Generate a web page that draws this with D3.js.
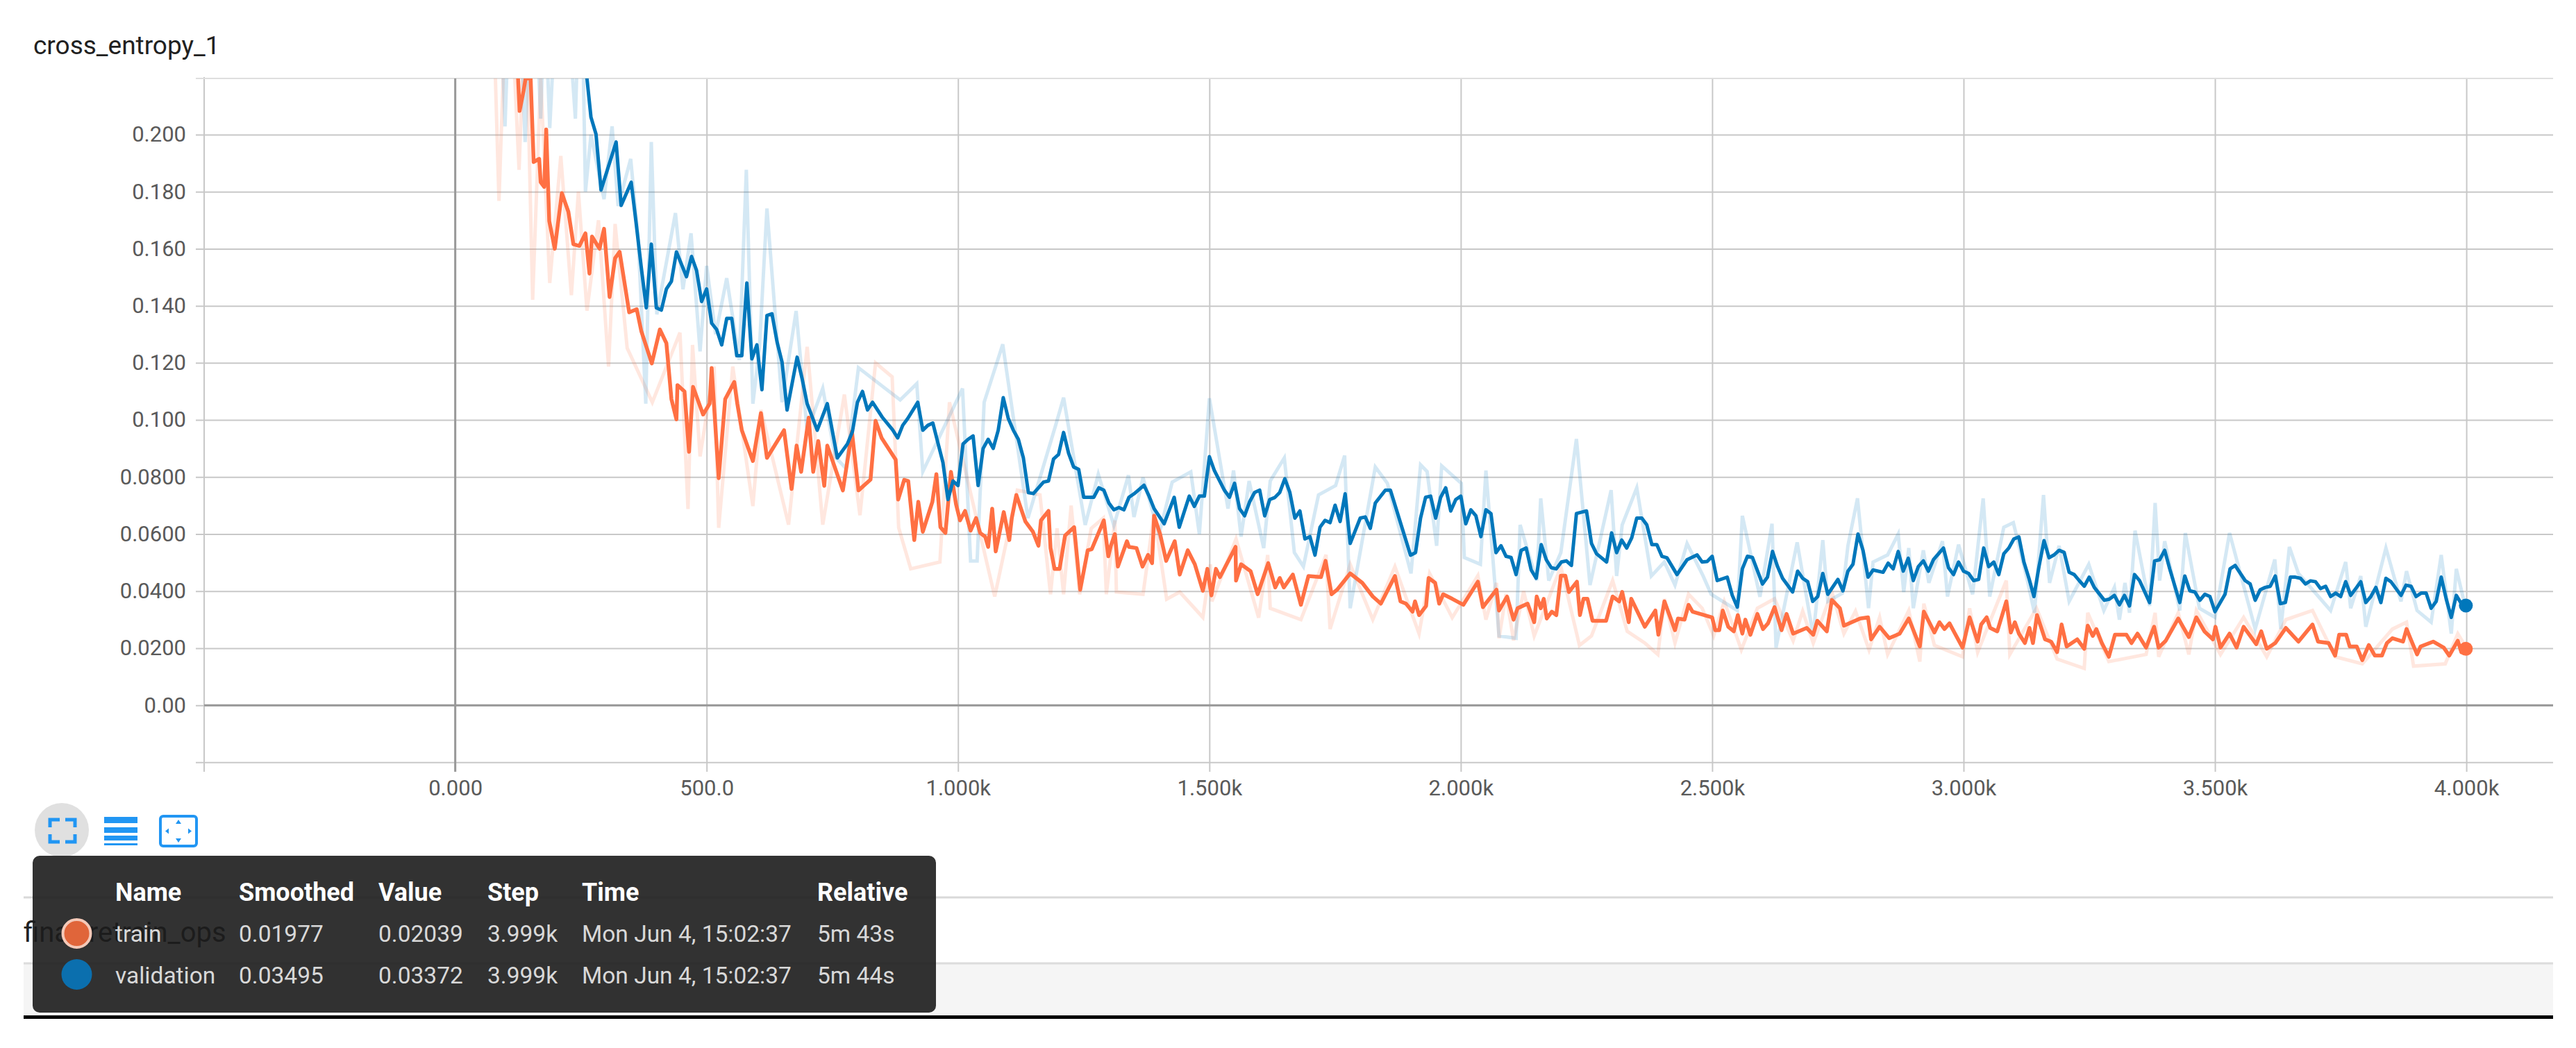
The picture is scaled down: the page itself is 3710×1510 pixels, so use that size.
<!DOCTYPE html>
<html>
<head>
<meta charset="utf-8">
<script src="https://cdn.jsdelivr.net/npm/d3@7"></script>
<style>
  html, body { margin: 0; background: #fff; }
  text { font-family: Roboto, sans-serif; }
</style>
</head>
<body>
<svg id="chart" width="3710" height="1510"></svg>
<script>
// data: step and value arrays per series
const valSteps = [80,160,220,262,270,280,290,320,330,350,360,370,380,390,400,410,420,430,440,460,470,480,490,500,510,520,530,540,550,560,570,580,590,600,610,620,630,640,650,660,680,690,700,720,740,760,780,790,800,810,820,830,850,870,880,890,900,920,930,940,950,970,980,990,1000,1010,1020,1030,1040,1050,1060,1070,1080,1090,1100,1110,1120,1130,1140,1150,1160,1170,1180,1190,1200,1210,1220,1230,1240,1250,1270,1280,1290,1300,1310,1320,1330,1340,1350,1370,1380,1390,1410,1430,1440,1460,1470,1480,1490,1500,1510,1530,1540,1550,1560,1570,1580,1590,1600,1610,1620,1630,1640,1650,1660,1670,1680,1690,1700,1710,1720,1730,1740,1750,1760,1770,1780,1800,1810,1820,1830,1850,1860,1900,1910,1920,1930,1940,1950,1960,1970,1980,1990,2000,2010,2020,2030,2040,2050,2060,2070,2080,2090,2100,2110,2120,2130,2140,2150,2160,2170,2180,2190,2200,2210,2220,2230,2250,2260,2270,2290,2300,2310,2320,2330,2340,2350,2360,2370,2380,2390,2400,2410,2430,2450,2470,2480,2490,2500,2510,2530,2540,2550,2560,2570,2580,2600,2610,2620,2630,2640,2660,2670,2680,2690,2700,2710,2720,2730,2750,2760,2770,2780,2790,2800,2810,2820,2840,2850,2860,2870,2880,2890,2900,2910,2920,2930,2940,2960,2970,2980,2990,3000,3010,3020,3030,3040,3050,3060,3070,3080,3090,3100,3110,3120,3130,3140,3150,3160,3170,3180,3190,3200,3210,3220,3230,3240,3250,3260,3280,3290,3300,3310,3320,3330,3340,3350,3370,3380,3390,3400,3410,3430,3440,3450,3460,3470,3480,3490,3500,3520,3530,3540,3560,3570,3580,3590,3600,3610,3620,3630,3640,3650,3660,3670,3680,3690,3700,3710,3720,3730,3740,3750,3760,3770,3790,3800,3810,3820,3830,3840,3850,3870,3880,3890,3900,3910,3920,3930,3940,3950,3960,3970,3980,3990,3999];
const valSmooth = [.36,.28,.24,.2197,.2061,.2002,.1806,.1974,.1752,.1833,.1687,.1535,.1393,.1616,.1393,.1385,.1459,.1486,.1589,.1502,.1573,.1524,.1415,.1459,.1339,.1317,.1263,.1356,.1356,.1225,.1225,.1480,.1214,.1263,.1106,.1366,.1372,.1274,.1203,.1035,.1220,.1144,.1057,.0964,.1057,.0867,.0916,.0959,.1062,.1100,.1035,.1062,.1008,.0965,.0937,.0981,.1005,.1062,.0964,.0981,.0989,.0851,.0721,.0786,.0770,.0916,.0932,.0944,.0770,.0900,.0932,.0900,.0964,.1078,.1005,.0964,.0932,.0867,.0745,.0742,.0762,.0782,.0786,.0863,.0879,.0956,.0883,.0835,.0827,.0729,.0729,.0762,.0754,.0709,.0685,.0693,.0685,.0729,.0741,.0771,.0733,.0689,.0636,.0729,.0624,.0733,.0697,.0733,.0733,.0871,.0822,.0753,.0729,.0778,.0689,.0664,.0713,.0746,.0754,.0664,.0721,.0728,.0746,.0794,.0746,.0656,.0681,.0583,.0591,.0526,.0624,.0648,.0640,.0701,.0644,.0741,.0567,.0656,.0660,.0620,.0709,.0754,.0754,.0526,.0535,.0656,.0729,.0733,.0656,.0729,.0762,.0681,.0721,.0733,.0636,.0685,.0664,.0591,.0685,.0672,.0535,.0559,.0522,.0518,.0458,.0543,.0551,.0474,.0445,.0563,.0510,.0482,.0478,.0502,.0506,.0490,.0672,.0681,.0567,.0531,.0502,.0604,.0535,.0579,.0551,.0587,.0656,.0656,.0632,.0563,.0563,.0522,.0517,.0458,.0510,.0527,.0502,.0504,.0522,.0437,.0449,.0385,.0344,.0478,.0522,.0518,.0425,.0449,.0539,.0486,.0445,.0397,.0470,.0445,.0433,.0364,.0381,.0462,.0389,.0441,.0401,.0470,.0494,.0600,.0543,.0449,.0474,.0466,.0498,.0478,.0539,.0470,.0515,.0437,.0486,.0506,.0470,.0510,.0551,.0482,.0458,.0502,.0470,.0462,.0437,.0441,.0551,.0486,.0502,.0458,.0531,.0551,.0583,.0590,.0502,.0445,.0381,.0486,.0577,.0517,.0527,.0543,.0536,.0466,.0458,.0437,.0417,.0449,.0413,.0368,.0372,.0385,.0352,.0385,.0348,.0458,.0437,.0360,.0506,.0510,.0543,.0478,.0360,.0453,.0401,.0397,.0368,.0389,.0381,.0328,.0389,.0478,.0490,.0437,.0425,.0368,.0405,.0413,.0417,.0453,.0356,.0360,.0449,.0449,.0445,.0425,.0436,.0433,.0409,.0417,.0381,.0393,.0381,.0433,.0385,.0433,.0360,.0381,.0413,.0360,.0445,.0433,.0385,.0421,.0417,.0381,.0393,.0393,.0340,.0364,.0449,.0372,.0308,.0385,.0356,.03495];

const trainSteps = [90,110,125,128,136,140,150,156,167,170,177,181,187,198,212,225,235,247,259,267,272,287,296,307,318,327,346,361,370,391,407,420,430,440,442,456,465,473,493,506,510,524,537,555,561,570,592,608,620,654,669,679,688,703,712,722,734,740,771,789,802,826,836,848,876,881,893,901,913,921,930,949,957,965,975,986,996,1004,1014,1025,1036,1044,1054,1060,1068,1075,1091,1102,1107,1116,1134,1149,1160,1165,1180,1184,1192,1202,1213,1231,1243,1258,1266,1290,1299,1304,1312,1318,1336,1340,1355,1367,1378,1386,1390,1402,1414,1431,1441,1457,1471,1487,1496,1504,1513,1521,1552,1553,1563,1582,1596,1617,1631,1640,1648,1666,1682,1697,1722,1731,1743,1754,1780,1804,1825,1841,1869,1880,1891,1904,1909,1917,1931,1936,1949,1957,1965,1983,2005,2034,2044,2071,2076,2092,2105,2113,2133,2146,2151,2159,2165,2171,2181,2190,2199,2208,2215,2231,2237,2244,2252,2262,2289,2302,2315,2321,2334,2339,2366,2387,2393,2405,2426,2432,2445,2453,2461,2500,2506,2514,2521,2532,2543,2551,2560,2566,2576,2590,2601,2611,2624,2638,2648,2661,2688,2701,2709,2728,2738,2754,2762,2794,2810,2816,2833,2852,2873,2891,2913,2921,2942,2952,2962,2972,2983,2998,3012,3028,3035,3046,3053,3067,3085,3094,3102,3110,3122,3131,3138,3146,3162,3174,3186,3195,3205,3226,3240,3247,3257,3264,3275,3289,3301,3324,3334,3346,3363,3379,3388,3402,3427,3448,3463,3479,3496,3501,3511,3529,3543,3557,3582,3592,3603,3620,3641,3666,3694,3705,3726,3739,3747,3761,3768,3782,3793,3806,3818,3832,3842,3853,3874,3881,3902,3909,3934,3955,3966,3983,3990,3999];
const trainSmooth = [.30,.25,.2197,.2083,.2154,.2197,.2197,.1904,.1915,.1833,.1817,.2018,.1697,.1600,.1795,.1730,.1616,.1610,.1654,.1513,.1643,.1600,.1670,.1431,.1567,.1589,.1377,.1388,.1312,.1198,.1317,.1269,.1073,.1002,.1122,.1100,.0888,.1116,.1019,.1057,.1182,.0796,.1073,.1133,.1057,.0964,.0856,.1024,.0867,.0964,.0758,.0910,.0818,.1008,.0818,.0926,.0769,.0910,.0753,.0959,.0753,.0791,.0997,.0937,.0861,.0721,.0790,.0786,.0579,.0713,.0608,.0713,.0810,.0624,.0604,.0818,.0705,.0648,.0681,.0612,.0656,.0604,.0591,.0555,.0689,.0539,.0677,.0579,.0656,.0737,.0644,.0608,.0559,.0648,.0681,.0551,.0478,.0478,.0595,.0624,.0405,.0543,.0547,.0648,.0522,.0559,.0600,.0486,.0575,.0555,.0551,.0486,.0527,.0498,.0664,.0600,.0506,.0575,.0458,.0543,.0494,.0401,.0478,.0385,.0478,.0449,.0555,.0437,.0494,.0470,.0389,.0498,.0413,.0446,.0413,.0458,.0352,.0453,.0449,.0506,.0389,.0405,.0462,.0429,.0381,.0356,.0453,.0364,.0356,.0328,.0364,.0316,.0348,.0446,.0429,.0356,.0389,.0373,.0352,.0433,.0344,.0405,.0332,.0381,.0300,.0340,.0356,.0291,.0381,.0340,.0373,.0304,.0328,.0316,.0454,.0454,.0397,.0433,.0316,.0373,.0373,.0296,.0296,.0381,.0364,.0397,.0291,.0373,.0275,.0332,.0247,.0364,.0263,.0304,.0300,.0352,.0328,.0308,.0263,.0263,.0332,.0275,.0259,.0316,.0251,.0300,.0247,.0320,.0267,.0287,.0344,.0263,.0320,.0251,.0271,.0247,.0296,.0259,.0369,.0340,.0279,.0304,.0308,.0231,.0275,.0235,.0251,.0304,.0206,.0328,.0255,.0291,.0267,.0287,.0251,.0202,.0308,.0223,.0283,.0308,.0271,.0259,.0364,.0255,.0291,.0251,.0218,.0271,.0218,.0316,.0231,.0223,.0186,.0283,.0206,.0231,.0198,.0279,.0243,.0267,.0218,.0170,.0247,.0247,.0218,.0251,.0202,.0275,.0202,.0226,.0304,.0239,.0308,.0259,.0231,.0275,.0202,.0251,.0202,.0275,.0214,.0259,.0198,.0218,.0271,.0223,.0283,.0223,.0218,.0174,.0247,.0247,.0206,.0206,.0158,.0211,.0174,.0174,.0218,.0235,.0223,.0267,.0178,.0206,.0223,.0202,.0174,.0226,.0186,.01977];

// raw (unsmoothed) runs, drawn pale behind; the last few entries are troughs and peaks added on a second look
const valRawSteps = [80,99,118,139,155,170,178,188,210,239,250,259,270,296,312,324,349,364,379,390,401,438,453,469,487,500,518,540,565,579,592,605,620,650,678,700,731,756,777,802,885,918,930,1009,1025,1038,1052,1089,1139,1194,1210,1253,1279,1339,1368,1426,1463,1500,1537,1548,1563,1579,1608,1621,1649,1669,1687,1717,1751,1769,1780,1830,1854,1901,1920,1933,1952,1962,2001,2007,2039,2050,2076,2110,2118,2151,2159,2175,2199,2230,2257,2299,2310,2321,2350,2379,2405,2426,2450,2482,2498,2550,2560,2595,2619,2627,2669,2701,2720,2730,2759,2770,2789,2811,2820,2849,2870,2881,2891,2900,2920,2931,2958,2968,2990,3018,3039,3052,3080,3099,3127,3141,3159,3171,3190,3210,3249,3279,3300,3310,3321,3330,3341,3370,3381,3390,3400,3430,3441,3469,3500,3529,3580,3619,3631,3648,3666,3730,3760,3770,3790,3800,3840,3870,3881,3902,3930,3950,3970,3980,3999, 1310,1350,1400,1480];
const valRawValues = [.30,.2029,.30,.1974,.27,.2056,.25,.2023,.28,.2056,.27,.180,.20,.1774,.2029,.175,.1915,.1632,.1057,.1974,.137,.1725,.1458,.1654,.124,.154,.130,.1497,.121,.1877,.1057,.125,.1741,.1062,.1382,.096,.1111,.087,.083,.1183,.1070,.1127,.0819,.1110,.0506,.0506,.1062,.1265,.0656,.0980,.1078,.0632,.0810,.0806,.0798,.0782,.0818,.1076,.0689,.0823,.0591,.0786,.0551,.0786,.0867,.0535,.0486,.0737,.0770,.0875,.0340,.0835,.0778,.0462,.0843,.0819,.0559,.0839,.0778,.0518,.0494,.0823,.0243,.0235,.0632,.0437,.0725,.0437,.0535,.0933,.0421,.0754,.0453,.0632,.0762,.0453,.0502,.0421,.0567,.0453,.0389,.0332,.0664,.0380,.0636,.0202,.0571,.0243,.0579,.0364,.0393,.0559,.0725,.0340,.0502,.0527,.0600,.0397,.0551,.0340,.0543,.0429,.0575,.0381,.0563,.0389,.0725,.0381,.0624,.0640,.0437,.0324,.0737,.0429,.0559,.0364,.0494,.0332,.0413,.0300,.0429,.0324,.0612,.0348,.0709,.0437,.0575,.0332,.0604,.0340,.0308,.0604,.0267,.0511,.0267,.0555,.0462,.0332,.0502,.0340,.0453,.0275,.0551,.0364,.0470,.0332,.0291,.0527,.0251,.0478,.03372, .0630,.0660,.0600,.0600];

const trainRawSteps = [70,87,105,127,140,154,170,188,210,231,245,262,285,305,318,342,392,447,463,472,487,515,524,552,592,608,663,700,731,774,805,836,869,882,906,964,983,1073,1118,1163,1184,1210,1242,1289,1295,1312,1315,1368,1390,1415,1441,1487,1502,1505,1553,1598,1616,1621,1682,1732,1740,1780,1825,1869,1917,1938,1983,2034,2050,2071,2076,2105,2146,2199,2236,2260,2302,2331,2366,2392,2405,2426,2453,2503,2524,2558,2590,2624,2661,2701,2738,2762,2812,2833,2849,2891,2913,2921,2942,2998,3012,3028,3085,3092,3145,3186,3240,3247,3289,3363,3381,3388,3427,3448,3463,3511,3557,3603,3641,3694,3739,3793,3853,3881,3895,3958,3983,3999, 1197,1225,1265,2090,2125,2480,2680,2785];
const trainRawValues = [.28,.1768,.27,.1877,.25,.1421,.22,.1480,.1925,.1437,.18,.1383,.17,.1187,.1687,.1252,.1062,.1306,.0688,.1263,.0872,.1187,.0622,.1187,.0698,.1035,.0633,.1256,.0633,.1089,.0666,.1200,.1151,.0622,.0478,.0502,.1062,.0381,.0754,.0737,.0389,.0389,.0389,.0656,.0389,.0648,.0397,.0389,.0672,.0372,.0397,.0308,.0494,.0364,.0583,.0307,.0527,.0340,.0300,.0527,.0267,.0494,.0300,.0486,.0251,.0462,.0307,.0454,.0300,.0429,.0235,.0227,.0243,.0486,.0210,.0243,.0437,.0259,.0218,.0178,.0373,.0218,.0389,.0243,.0364,.0194,.0340,.0373,.0226,.0218,.0397,.0251,.0194,.0308,.0178,.0332,.0153,.0356,.0210,.0170,.0340,.0186,.0437,.0178,.0340,.0162,.0129,.0324,.0153,.0178,.0324,.0170,.0324,.0178,.0332,.0178,.0308,.0170,.0300,.0332,.0170,.0145,.0267,.0291,.0137,.0145,.0251,.02039, .0620,.0700,.0620,.0390,.0400,.0340,.0330,.0330];

const yTicks = [0.2, 0.18, 0.16, 0.14, 0.12, 0.1, 0.08, 0.06, 0.04, 0.02, 0, -0.02];
const yTickLabels = ["0.200", "0.180", "0.160", "0.140", "0.120", "0.100", "0.0800", "0.0600", "0.0400", "0.0200", "0.00", ""];
const xTicks = [0, 500, 1000, 1500, 2000, 2500, 3000, 3500, 4000];
const xTickLabels = ["0.000", "500.0", "1.000k", "1.500k", "2.000k", "2.500k", "3.000k", "3.500k", "4.000k"];

const tipHeaders = ["Name", "Smoothed", "Value", "Step", "Time", "Relative"];
const tipTrain = ["train", "0.01977", "0.02039", "3.999k", "Mon Jun 4, 15:02:37", "5m 43s"];
const tipValidation = ["validation", "0.03495", "0.03372", "3.999k", "Mon Jun 4, 15:02:37", "5m 44s"];
const tipColX = [166, 344, 545, 702, 838, 1177];

const ORANGE = "#ff7043";
const BLUE = "#0077bb";

const plotLeft = 294, plotRight = 3677, plotTop = 113, plotBottom = 1100;

const svg = d3.select("#chart");

const x = d3.scaleLinear().domain([-499.4, 4172.5]).range([plotLeft, plotRight]);
const y = d3.scaleLinear().domain([0.2197, -0.0204]).range([plotTop, plotBottom]);

svg.append("defs").append("clipPath").attr("id", "plot")
  .append("rect")
  .attr("x", plotLeft).attr("y", plotTop)
  .attr("width", plotRight - plotLeft).attr("height", plotBottom - plotTop);

svg.append("text")
  .attr("x", 48).attr("y", 78)
  .attr("font-size", 37).attr("fill", "#212121")
  .text("cross_entropy_1");

// axes double as the grid
const yAxis = d3.axisLeft(y)
  .tickValues(yTicks)
  .tickSize(-(plotRight - plotLeft))
  .tickPadding(26)
  .tickFormat((d, i) => yTickLabels[i]);
const xAxis = d3.axisBottom(x)
  .tickValues(xTicks)
  .tickSize(-(plotBottom - plotTop))
  .tickPadding(24)
  .tickFormat((d, i) => xTickLabels[i]);

const gy = svg.append("g").attr("transform", "translate(" + plotLeft + ",0)").call(yAxis);
const gx = svg.append("g").attr("transform", "translate(0," + plotBottom + ")").call(xAxis);

[gy, gx].forEach(g => {
  g.select(".domain").remove();
  g.selectAll("line").attr("stroke", "#c8c8c8").attr("stroke-width", 2);
  g.selectAll("text")
    .attr("font-size", 31)
    .attr("font-family", "Roboto, sans-serif")
    .attr("fill", "#5a5a5a");
});
gx.selectAll(".tick line").attr("y2", -(plotBottom - plotTop)).attr("y1", 12);
gy.selectAll(".tick line").attr("x2", plotRight - plotLeft).attr("x1", -12);

// outer frame lines and the two zero lines
svg.append("line").attr("x1", plotLeft).attr("x2", plotLeft)
  .attr("y1", plotTop - 2).attr("y2", plotBottom + 12)
  .attr("stroke", "#c8c8c8").attr("stroke-width", 2);
svg.append("line").attr("x1", plotLeft - 12).attr("x2", plotRight)
  .attr("y1", plotTop).attr("y2", plotTop)
  .attr("stroke", "#dedede").attr("stroke-width", 2);
svg.append("line").attr("x1", x(0)).attr("x2", x(0))
  .attr("y1", plotTop).attr("y2", plotBottom + 12)
  .attr("stroke", "#999").attr("stroke-width", 3);
svg.append("line").attr("x1", plotLeft).attr("x2", plotRight)
  .attr("y1", y(0)).attr("y2", y(0))
  .attr("stroke", "#999").attr("stroke-width", 3);

const line = d3.line()
  .x(d => x(d[0]))
  .y(d => y(d[1]));

const sortedPairs = (steps, vals) => d3.sort(steps.map((s, i) => [s, vals[i]]), d => d[0]);

const plot = svg.append("g").attr("clip-path", "url(#plot)");

plot.append("path")
  .attr("d", line(sortedPairs(trainRawSteps, trainRawValues)))
  .attr("fill", "none").attr("stroke", ORANGE)
  .attr("stroke-opacity", 0.17).attr("stroke-width", 5);
plot.append("path")
  .attr("d", line(sortedPairs(valRawSteps, valRawValues)))
  .attr("fill", "none").attr("stroke", BLUE)
  .attr("stroke-opacity", 0.17).attr("stroke-width", 5);

plot.append("path")
  .attr("d", line(sortedPairs(trainSteps, trainSmooth)))
  .attr("fill", "none").attr("stroke", ORANGE)
  .attr("stroke-width", 5.5).attr("stroke-linejoin", "round");
plot.append("path")
  .attr("d", line(sortedPairs(valSteps, valSmooth)))
  .attr("fill", "none").attr("stroke", BLUE)
  .attr("stroke-width", 5).attr("stroke-linejoin", "round");

// end markers
plot.append("circle")
  .attr("cx", x(d3.max(trainSteps))).attr("cy", y(trainSmooth[trainSmooth.length - 1]))
  .attr("r", 10).attr("fill", ORANGE);
plot.append("circle")
  .attr("cx", x(d3.max(valSteps))).attr("cy", y(valSmooth[valSmooth.length - 1]))
  .attr("r", 10).attr("fill", BLUE);

// chart toolbar
const ICON = "#2196f3";
svg.append("circle").attr("cx", 89).attr("cy", 1196).attr("r", 39).attr("fill", "#e0e0e0");
svg.append("path")
  .attr("d", "M72 1192V1181H86 M94 1181H108V1192 M108 1202V1213H94 M86 1213H72V1202")
  .attr("fill", "none").attr("stroke", ICON).attr("stroke-width", 5);
[[1177, 9], [1192, 8], [1204, 7], [1215, 3]].forEach(b => {
  svg.append("rect").attr("x", 150).attr("y", b[0])
    .attr("width", 48).attr("height", b[1]).attr("fill", ICON);
});
svg.append("rect").attr("x", 231).attr("y", 1176)
  .attr("width", 52).attr("height", 43).attr("rx", 4)
  .attr("fill", "#fff").attr("stroke", ICON).attr("stroke-width", 4);
svg.append("path")
  .attr("d", "M257 1181l4 6h-8z M257 1214l4 -6h-8z M238 1197.5l5 -4v8z M276 1197.5l-5 -4v8z")
  .attr("fill", ICON);

// next collapsed card, sits behind the tooltip
svg.append("line").attr("x1", 34).attr("x2", plotRight)
  .attr("y1", 1293).attr("y2", 1293)
  .attr("stroke", "#d9d9d9").attr("stroke-width", 3);
svg.append("text")
  .attr("x", 34).attr("y", 1357)
  .attr("font-size", 40).attr("fill", "#212121")
  .text("final_retrain_ops");
svg.append("rect").attr("x", 34).attr("y", 1388)
  .attr("width", plotRight - 34).attr("height", 76).attr("fill", "#f5f5f5");
svg.append("line").attr("x1", 34).attr("x2", plotRight)
  .attr("y1", 1388).attr("y2", 1388)
  .attr("stroke", "#dcdcdc").attr("stroke-width", 3);
svg.append("rect").attr("x", 34).attr("y", 1463)
  .attr("width", plotRight - 34).attr("height", 5).attr("fill", "#000");

// tooltip
svg.append("rect")
  .attr("x", 47).attr("y", 1233)
  .attr("width", 1301).attr("height", 226).attr("rx", 10)
  .attr("fill", "#1c1c1c").attr("fill-opacity", 0.9);

const rows = [
  { cells: tipHeaders, y: 1298, size: 36, fill: "#fff", weight: 700 },
  { cells: tipTrain, y: 1357, size: 33.5, fill: "#d8d8d8", weight: 400 },
  { cells: tipValidation, y: 1417, size: 33.5, fill: "#d8d8d8", weight: 400 }
];
rows.forEach(row => {
  svg.append("g").selectAll("text")
    .data(row.cells)
    .join("text")
    .attr("x", (d, i) => tipColX[i])
    .attr("y", row.y)
    .attr("font-size", row.size)
    .attr("font-weight", row.weight)
    .attr("fill", row.fill)
    .text(d => d);
});

svg.append("circle").attr("cx", 110.5).attr("cy", 1345).attr("r", 20)
  .attr("fill", "#e0653a").attr("stroke", "#f4c9b8").attr("stroke-width", 4);
svg.append("circle").attr("cx", 110.5).attr("cy", 1404).attr("r", 22)
  .attr("fill", "#0b6fae");
</script>
</body>
</html>
